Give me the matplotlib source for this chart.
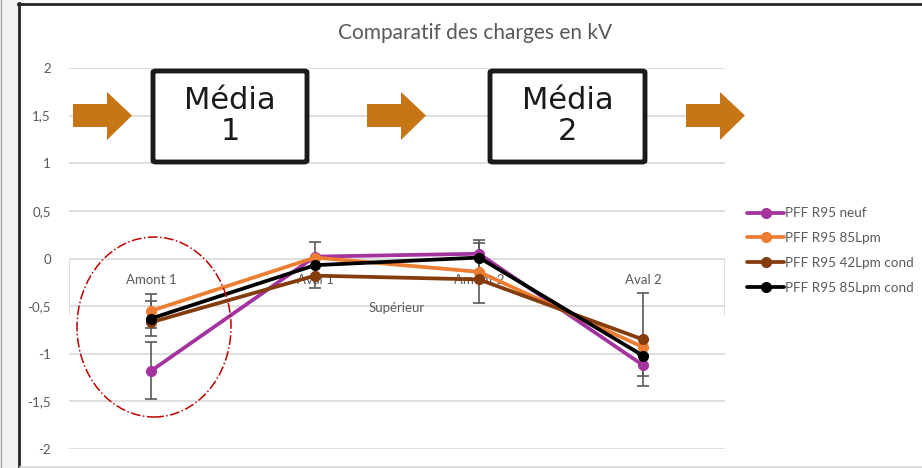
import matplotlib
matplotlib.use("Agg")
import matplotlib.pyplot as plt
from matplotlib.patches import FancyBboxPatch, Polygon, Ellipse, Rectangle
from matplotlib.lines import Line2D

plt.rcParams['font.family'] = ['Lato', 'DejaVu Sans']

# ---- data ----
categories = ["Amont 1", "Aval 1", "Amont 2", "Aval 2"]
group_label = "Supérieur"
series_names = ["PFF R95 neuf", "PFF R95 85Lpm", "PFF R95 42Lpm cond", "PFF R95 85Lpm cond"]
neuf = [-1.18, 0.02, 0.05, -1.12]
lpm85 = [-0.55, 0.01, -0.14, -0.93]
lpm42_cond = [-0.67, -0.18, -0.22, -0.85]
lpm85_cond = [-0.63, -0.07, 0.01, -1.02]
neuf_err = [0.30, 0.0, 0.0, 0.11]
lpm85_err = [0.18, 0.0, 0.33, 0.0]
lpm42_cond_err = [0.0, 0.0, 0.0, 0.49]
lpm85_cond_err = [0.18, 0.24, 0.15, 0.0]
yticks = [2, 1.5, 1, 0.5, 0, -0.5, -1, -1.5, -2]
ytick_labels = ["2", "1,5", "1", "0,5", "0", "-0,5", "-1", "-1,5", "-2"]
title = "Comparatif des charges en kV"
box_labels = ["Média\n1", "Média\n2"]

colors = ["#A4339E", "#ED7D31", "#843C0C", "#000000"]
values = [neuf, lpm85, lpm42_cond, lpm85_cond]
errs = [neuf_err, lpm85_err, lpm42_cond_err, lpm85_cond_err]

W, H = 922, 468
fig = plt.figure(figsize=(W / 100, H / 100), dpi=100)
fig.patch.set_facecolor("white")


def fx(x):
    return x / W


def fy(y):
    return 1 - y / H


# frame decorations
fig.add_artist(Rectangle((0, 0), fx(18), 1, transform=fig.transFigure, facecolor="#F2F2F2", edgecolor="none", zorder=0))
fig.add_artist(Line2D([fx(0.5), fx(0.5)], [0, 1], transform=fig.transFigure, color="#A6A6A6", lw=1))
fig.add_artist(Line2D([fx(19), fx(19)], [0, fy(3)], transform=fig.transFigure, color="#262626", lw=2))
fig.add_artist(Line2D([fx(18), 1], [fy(3.5), fy(3.5)], transform=fig.transFigure, color="#262626", lw=2))
fig.add_artist(Line2D([fx(20), 1], [fy(466.5), fy(466.5)], transform=fig.transFigure, color="#D9D9D9", lw=1.2))

ax = fig.add_axes([fx(69), fy(449), fx(725 - 69), (449 - 68) / H])
ax.set_facecolor("none")
x = list(range(len(categories)))
ax.set_xlim(-0.5, len(categories) - 0.5)
ax.set_ylim(-2, 2)
for s in ax.spines.values():
    s.set_visible(False)
ax.set_yticks(yticks)
ax.set_yticklabels(ytick_labels, color="#595959", fontsize=9.5)
ax.tick_params(axis="y", length=0, pad=13)
ax.set_xticks([])
ax.grid(axis="y", color="#D9D9D9", lw=1.2)
ax.set_axisbelow(True)
ax.vlines([-0.5, len(categories) - 0.5], -0.6, 0, color="#D9D9D9", lw=1.2, zorder=1)

for i, c in enumerate(categories):
    ax.annotate(c, (x[i], 0), xytext=(0, -21), textcoords="offset pixels",
                ha="center", va="center", fontsize=9.5, color="#595959", zorder=2)
ax.annotate(group_label, ((len(categories) - 1) / 2, 0), xytext=(0, -49), textcoords="offset pixels",
            ha="center", va="center", fontsize=9.5, color="#595959", zorder=2)

for v, e, col in zip(values, errs, colors):
    xs = [xi for xi, ei in zip(x, e) if ei > 0]
    vs = [vi for vi, ei in zip(v, e) if ei > 0]
    es = [ei for ei in e if ei > 0]
    ax.errorbar(xs, vs, yerr=es, fmt="none", ecolor="#595959", elinewidth=1.2, capsize=4, capthick=1.2, zorder=3)

for v, col, name in zip(values, colors, series_names):
    ax.plot(x, v, color=col, lw=2.7, marker="o", markersize=7, label=name, zorder=4, solid_capstyle="round")

# title
fig.text(fx(475), fy(33), title, ha="center", va="center", fontsize=15, color="#595959")

# legend
handles, labels = ax.get_legend_handles_labels()
fig.legend(handles, labels, loc="upper left", bbox_to_anchor=(fx(742), fy(202)), frameon=False,
           fontsize=9.7, labelcolor="#595959", handlelength=2.7, handletextpad=0.1,
           labelspacing=0.95, borderaxespad=0)

# arrows
arrow_color = "#C67615"
for x0 in [73, 367, 686]:
    pts = [(x0, 104), (x0 + 34, 104), (x0 + 34, 92), (x0 + 59, 115.5), (x0 + 34, 140), (x0 + 34, 127), (x0, 127)]
    fig.add_artist(Polygon([(fx(a), fy(b)) for a, b in pts], closed=True, transform=fig.transFigure,
                           facecolor=arrow_color, edgecolor="none", zorder=5))

# media boxes
for (x0, x1), lab in zip([(153, 307), (490, 645)], box_labels):
    fig.add_artist(FancyBboxPatch((fx(x0), fy(162)), fx(x1 - x0), (162 - 71) / H,
                                  boxstyle="round,pad=0,rounding_size=0.003", transform=fig.transFigure,
                                  facecolor="white", edgecolor="#1A1A1A", lw=3.5, zorder=5))
    fig.text(fx((x0 + x1) / 2), fy(116), lab, ha="center", va="center", fontsize=22,
             color="#1A1A1A", linespacing=1.05, zorder=6, family=["DejaVu Sans"])

# red dash-dot ellipse
fig.add_artist(Ellipse((fx(154), fy(327)), fx(154), 180 / H, transform=fig.transFigure,
                       facecolor="none", edgecolor="#C00000", lw=1.1, linestyle="-.", zorder=6))

fig.savefig("out.png", dpi=100)
